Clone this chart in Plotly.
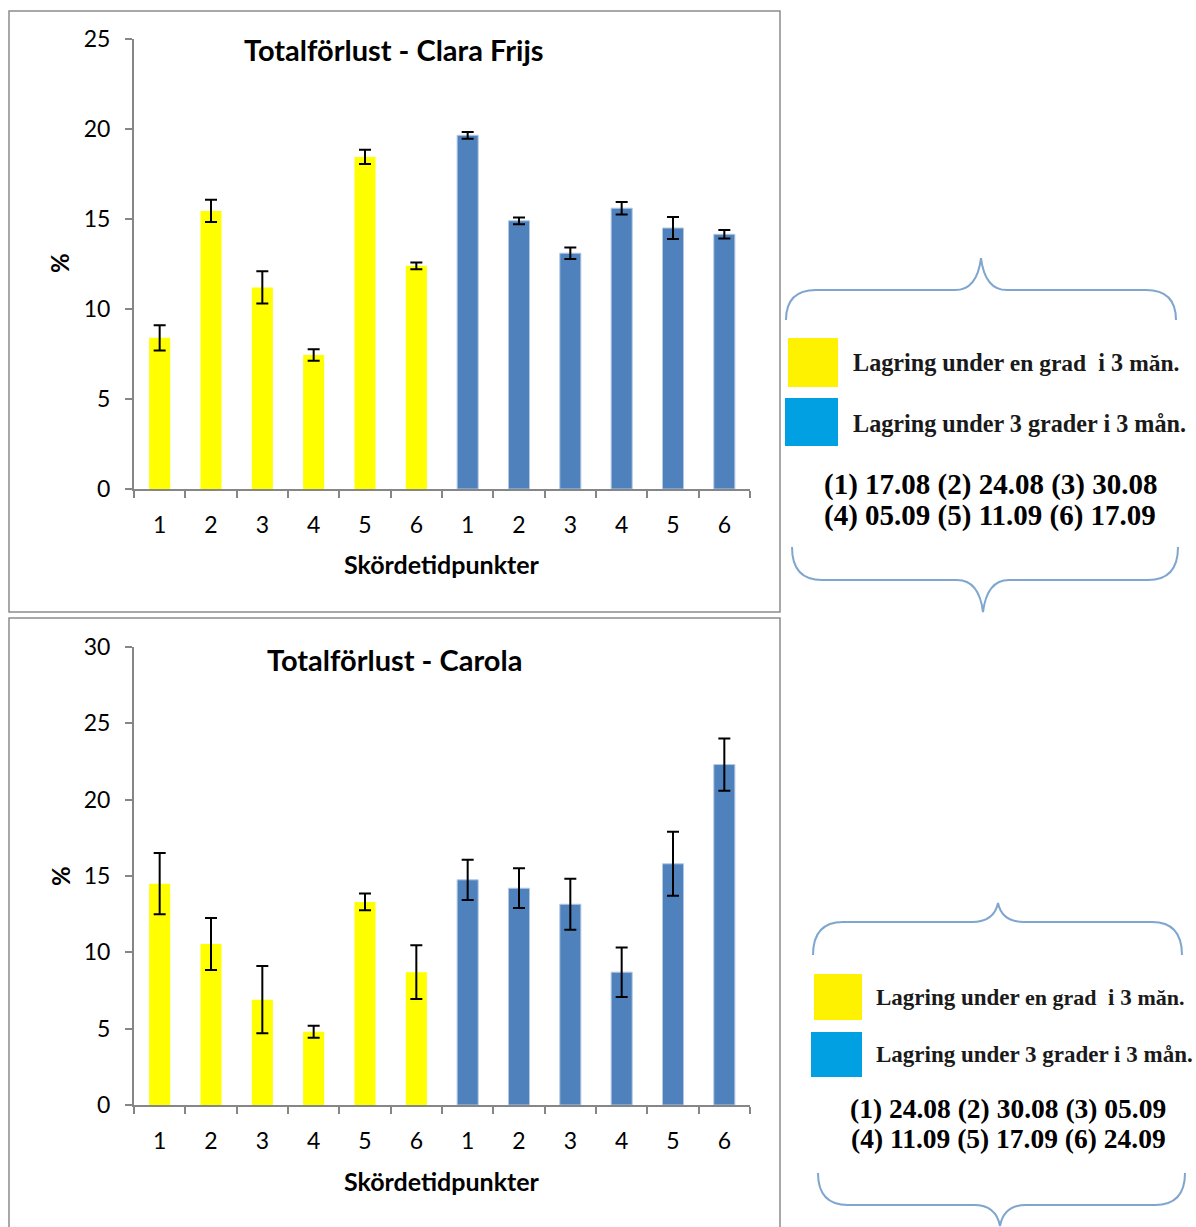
import plotly.graph_objects as go

W, H = 1196, 1227

# ---- data -------------------------------------------------------------
harvest_labels = ["1", "2", "3", "4", "5", "6"]

# Clara Frijs: total loss (%) per harvest date, with error bars
cf_cold = [8.4, 15.45, 11.2, 7.45, 18.45, 12.4]       # below one degree
cf_cold_err = [0.7, 0.62, 0.9, 0.32, 0.4, 0.19]
cf_warm = [19.65, 14.9, 13.1, 15.6, 14.5, 14.15]      # below 3 degrees
cf_warm_err = [0.19, 0.19, 0.32, 0.35, 0.61, 0.24]

# Carola: total loss (%) per harvest date, with error bars
ca_cold = [14.5, 10.55, 6.9, 4.8, 13.3, 8.7]
ca_cold_err = [2.0, 1.7, 2.2, 0.39, 0.55, 1.76]
ca_warm = [14.75, 14.2, 13.15, 8.7, 15.8, 22.3]
ca_warm_err = [1.32, 1.3, 1.67, 1.62, 2.1, 1.71]

cf_title = "Totalförlust - Clara Frijs"
ca_title = "Totalförlust - Carola"
x_title = "Skördetidpunkter"
y_title = "%"

legend_cold = ("Lagring under <span style=\"font-size:{s}px\">en grad</span>&nbsp;&nbsp;i 3 "
               "<span style=\"font-size:{s}px\">măn.</span>")
legend_warm = "Lagring under 3 grader i 3 mån."
cf_dates = ["(1) 17.08 (2) 24.08 (3) 30.08", "(4) 05.09 (5) 11.09 (6) 17.09"]
ca_dates = ["(1) 24.08 (2) 30.08 (3) 05.09", "(4) 11.09 (5) 17.09 (6) 24.09"]

# ---- styling ----------------------------------------------------------
YELLOW = "#FFFF00"
BLUE = "#4F81BD"
AXIS_GRAY = "#868686"
BRACE = "#7FA6CE"
CHART_FONT = "Lato, Open Sans, sans-serif"
SERIF = "Liberation Serif, DejaVu Serif, serif"

cold_cats = [f"c{k}" for k in harvest_labels]
warm_cats = [f"w{k}" for k in harvest_labels]
all_cats = cold_cats + warm_cats


def px(x):
    return x / W


def py(y):
    return 1 - y / H


fig = go.Figure()


def add_panel(cold, cold_err, warm, warm_err, xa, ya):
    fig.add_trace(go.Bar(
        x=cold_cats, y=cold, width=0.41,
        marker=dict(color=YELLOW, line=dict(width=0)),
        error_y=dict(type="data", array=cold_err, color="black", thickness=2, width=6),
        xaxis=xa, yaxis=ya, showlegend=False,
    ))
    fig.add_trace(go.Bar(
        x=warm_cats, y=warm, width=0.41,
        marker=dict(color=BLUE, line=dict(color="#B3C8E2", width=1)),
        error_y=dict(type="data", array=warm_err, color="black", thickness=2, width=6),
        xaxis=xa, yaxis=ya, showlegend=False,
    ))


add_panel(cf_cold, cf_cold_err, cf_warm, cf_warm_err, "x", "y")
add_panel(ca_cold, ca_cold_err, ca_warm, ca_warm_err, "x2", "y2")

x_dom = [px(134), px(750)]
xaxis_common = dict(
    type="category", categoryorder="array", categoryarray=all_cats,
    tickvals=all_cats, ticktext=harvest_labels * 2,
    tickson="boundaries", ticks="outside", ticklen=7, tickwidth=2, tickcolor=AXIS_GRAY,
    showline=True, linecolor=AXIS_GRAY, linewidth=2,
    showgrid=False, zeroline=False, domain=x_dom, automargin=False,
    tickfont=dict(family=CHART_FONT, size=23, color="black"),
    ticklabelstandoff=14, fixedrange=True,
)
yaxis_common = dict(
    ticks="outside", ticklen=7, tickwidth=2, tickcolor=AXIS_GRAY,
    showline=True, linecolor=AXIS_GRAY, linewidth=2,
    showgrid=False, zeroline=False, dtick=5, automargin=False,
    tickfont=dict(family=CHART_FONT, size=23, color="black"),
    ticklabelstandoff=10, fixedrange=True,
)

fig.update_layout(
    width=W, height=H, margin=dict(l=0, r=0, t=0, b=0, pad=0, autoexpand=False),
    paper_bgcolor="white", plot_bgcolor="white",
    barmode="overlay", showlegend=False,
    xaxis=dict(**xaxis_common, anchor="y"),
    yaxis=dict(**yaxis_common, range=[0, 25], domain=[py(489), py(39)], anchor="x"),
    xaxis2=dict(**xaxis_common, anchor="y2"),
    yaxis2=dict(**yaxis_common, range=[0, 30], domain=[py(1105), py(647)], anchor="x2"),
)

shapes = []
annotations = []

# chart frames
for y0, y1 in [(11, 612), (618, 1240)]:
    shapes.append(dict(type="rect", xref="paper", yref="paper",
                       x0=px(9), x1=px(780), y0=py(y1), y1=py(y0),
                       line=dict(color="#8C8C8C", width=1.5), fillcolor="rgba(0,0,0,0)", layer="below"))


def note(text, x, y, size, family=CHART_FONT, xanchor="center", angle=0, color="black"):
    annotations.append(dict(text=text, x=px(x), y=py(y), xref="paper", yref="paper",
                            showarrow=False, xanchor=xanchor, yanchor="middle", textangle=angle,
                            font=dict(family=family, size=size, color=color)))


# titles and axis labels
for title, ty, xy, yy in [(cf_title, 50, 564, 263), (ca_title, 659, 1181, 876)]:
    note(f"<b>{title}</b>", 394, ty, 29)
    note(f"<b>{x_title}</b>", 442, xy, 25)
    note(f"<b>{y_title}</b>", 60, yy, 24, angle=-90)


def P(x, y):
    return f"{px(x):.5f},{py(y):.5f}"


def brace(xl, xr, y_end, y_flat, xc, y_tip, r):
    """Curly brace from (xl, y_end) to (xr, y_end) with a pointed tip at (xc, y_tip)."""
    return (f"M {P(xl, y_end)} Q {P(xl, y_flat)} {P(xl + r, y_flat)} "
            f"L {P(xc - 26, y_flat)} Q {P(xc - 4, y_flat)} {P(xc, y_tip)} "
            f"Q {P(xc + 4, y_flat)} {P(xc + 26, y_flat)} "
            f"L {P(xr - r, y_flat)} Q {P(xr, y_flat)} {P(xr, y_end)}")


def legend_block(top_brace, bottom_brace, squares, text_x, text_y, text_size, small_size,
                 dates, dates_x, dates_y, dates_size):
    shapes.append(dict(type="path", xref="paper", yref="paper", path=brace(*top_brace),
                       line=dict(color=BRACE, width=2)))
    shapes.append(dict(type="path", xref="paper", yref="paper", path=brace(*bottom_brace),
                       line=dict(color=BRACE, width=2)))
    for (x0, x1, y0, y1), col in zip(squares, ["#FFF200", "#00A0E3"]):
        shapes.append(dict(type="rect", xref="paper", yref="paper",
                           x0=px(x0), x1=px(x1), y0=py(y1), y1=py(y0),
                           fillcolor=col, line=dict(width=0)))
    for txt, ty in zip([legend_cold.format(s=small_size), legend_warm], text_y):
        note(f"<b>{txt}</b>", text_x, ty, text_size, family=SERIF, xanchor="left", color="#1a1a1a")
    for line, dy in zip(dates, dates_y):
        note(f"<b>{line}</b>", dates_x, dy, dates_size, family=SERIF)


legend_block(
    top_brace=(786, 1176, 320, 290, 981, 258, 30),
    bottom_brace=(792, 1178, 547, 580, 983, 612, 30),
    squares=[(788, 838, 338, 387), (785, 838, 398, 446)],
    text_x=851, text_y=[362, 423], text_size=24.2, small_size=23.5,
    dates=cf_dates, dates_x=990, dates_y=[484, 516], dates_size=29,
)
legend_block(
    top_brace=(813, 1182, 955, 922, 998, 903, 30),
    bottom_brace=(818, 1185, 1173, 1205, 1000, 1226, 30),
    squares=[(814, 862, 974, 1020), (811, 862, 1032, 1077)],
    text_x=874, text_y=[997, 1054], text_size=23, small_size=22,
    dates=ca_dates, dates_x=1008, dates_y=[1108, 1138], dates_size=27.5,
)

fig.update_layout(shapes=shapes, annotations=annotations)
fig.write_html("out.html")
